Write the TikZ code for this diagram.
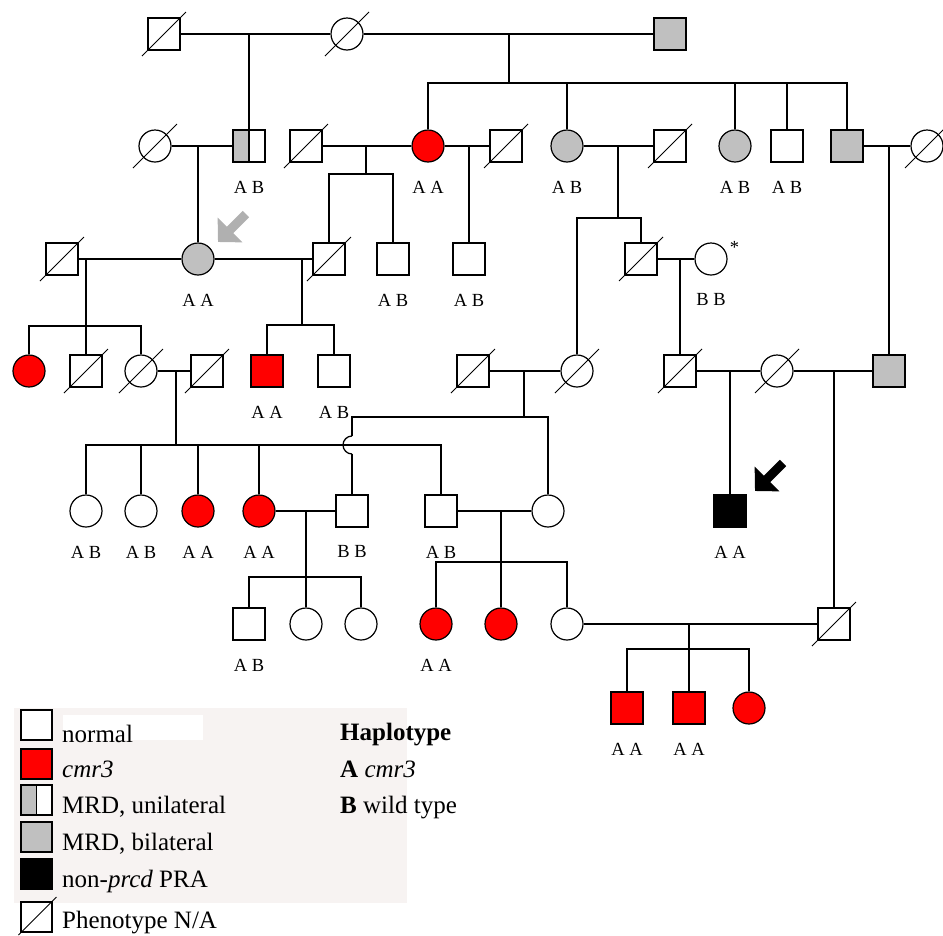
\documentclass[tikz,border=0pt]{standalone}
\usepackage{fontspec}
\setmainfont{Liberation Serif}
\usetikzlibrary{arrows.meta}
\definecolor{cmrRed}{HTML}{FF0000}
\definecolor{mrdGray}{HTML}{C0C0C0}
\definecolor{pointerGray}{HTML}{B0B0B0}
\definecolor{legendBg}{HTML}{F7F3F2}
\newcommand{\genofont}{\fontsize{18.5}{20}\selectfont}
\newcommand{\legfont}{\fontsize{25}{28}\selectfont}
\tikzset{
  indiv/.style={
    draw=black, fill=white, line width=1.2pt, minimum size=32pt, inner sep=0pt,
  },
  male/.style={indiv, rectangle},
  female/.style={indiv, circle},
  cmr/.style={fill=cmrRed},
  mrdbi/.style={fill=mrdGray},
  mrduni/.style={
    path picture={
      \fill[mrdGray] (path picture bounding box.south west) rectangle (path picture bounding box.north);
      \draw[line width=1.2pt] (path picture bounding box.north) -- (path picture bounding box.south);
    },
  },
  pra/.style={fill=black},
  geno/.style={label={[font=\genofont, inner sep=0pt, yshift=-18pt]below:#1}},
  starmark/.style={label={[font=\genofont, inner sep=0pt, xshift=3pt]20:*}},
  legbox/.style={
    draw=black, fill=white, line width=1.2pt, minimum width=31pt, minimum height=30pt, inner sep=0pt,
  },
  legtext/.style={font=\legfont, inner sep=0pt, anchor=base west},
  line/.style={line width=1.3pt},
  slash/.style={line width=1pt},
  pointer/.style={line width=9pt, -{Triangle[length=17pt, width=34pt]}},
}

\begin{document}
\begin{tikzpicture}[x=1pt, y=-1pt]
  \useasboundingbox (0,0) rectangle (943,935);

  % === Legend background ===
  \fill[legendBg] (14,708) rectangle (407,903);
  \fill[white] (63,715) rectangle (203,740);

  % === Generation I ===
  \node[male] (i1) at (164,34) {};
  \node[female] (i2) at (347,34) {};
  \node[male, mrdbi] (i3) at (670,34) {};

  % === Generation II ===
  \node[female] (ii1) at (155,146) {};
  \node[male, mrduni, geno=A B] (ii2) at (249,146) {};
  \node[male] (ii3) at (306,146) {};
  \node[female, cmr, geno=A A] (ii4) at (428,146) {};
  \node[male] (ii5) at (506,146) {};
  \node[female, mrdbi, geno=A B] (ii6) at (567,146) {};
  \node[male] (ii7) at (670,146) {};
  \node[female, mrdbi, geno=A B] (ii8) at (735,146) {};
  \node[male, geno=A B] (ii9) at (787,146) {};
  \node[male, mrdbi] (ii10) at (847,146) {};
  \node[female] (ii11) at (927,146) {};

  % === Generation III ===
  \node[male] (iii1) at (62,259) {};
  \node[female, mrdbi, geno=A A] (iii2) at (198,259) {};
  \node[male] (iii3) at (329,259) {};
  \node[male, geno=A B] (iii4) at (393,259) {};
  \node[male, geno=A B] (iii5) at (469,259) {};
  \node[male] (iii6) at (641,259) {};
  \node[female, geno=B B, starmark] (iii7) at (711,259) {};

  % === Generation IV ===
  \node[female, cmr] (iv1) at (29,371) {};
  \node[male] (iv2) at (86,371) {};
  \node[female] (iv3) at (141,371) {};
  \node[male] (iv4) at (207,371) {};
  \node[male, cmr, geno=A A] (iv5) at (267,371) {};
  \node[male, geno=A B] (iv6) at (334,371) {};
  \node[male] (iv7) at (473,371) {};
  \node[female] (iv8) at (577,371) {};
  \node[male] (iv9) at (680,371) {};
  \node[female] (iv10) at (777,371) {};
  \node[male, mrdbi] (iv11) at (889,371) {};

  % === Generation V ===
  \node[female, geno=A B] (v1) at (86,511) {};
  \node[female, geno=A B] (v2) at (141,511) {};
  \node[female, cmr, geno=A A] (v3) at (198,511) {};
  \node[female, cmr, geno=A A] (v4) at (259,511) {};
  \node[male, geno=B B] (v5) at (352,511) {};
  \node[male, geno=A B] (v6) at (441,511) {};
  \node[female] (v7) at (548,511) {};
  \node[male, pra, geno=A A] (v8) at (730,511) {};

  % === Generation VI ===
  \node[male, geno=A B] (vi1) at (249,624) {};
  \node[female] (vi2) at (306,624) {};
  \node[female] (vi3) at (361,624) {};
  \node[female, cmr, geno=A A] (vi4) at (436,624) {};
  \node[female, cmr] (vi5) at (501,624) {};
  \node[female] (vi6) at (567,624) {};
  \node[male] (vi7) at (834,624) {};

  % === Generation VII ===
  \node[male, cmr, geno=A A] (vii1) at (627,708) {};
  \node[male, cmr, geno=A A] (vii2) at (689,708) {};
  \node[female, cmr] (vii3) at (749,708) {};

  % === Phenotype N/A slashes ===
  \foreach \n in {i1,i2,ii1,ii3,ii5,ii7,ii11,iii1,iii3,iii6,iv2,iv3,iv4,iv7,iv8,iv9,iv10,vi7}
    \draw[slash] (\n.center) ++(-22,22) -- ++(44,-44);

  % === Mating lines ===
  \draw[line] (i1) -- (i2);
  \draw[line] (i2) -- (i3);
  \draw[line] (ii1) -- (ii2);
  \draw[line] (ii3) -- (ii4);
  \draw[line] (ii4) -- (ii5);
  \draw[line] (ii6) -- (ii7);
  \draw[line] (ii10) -- (ii11);
  \draw[line] (iii1) -- (iii2);
  \draw[line] (iii2) -- (iii3);
  \draw[line] (iii6) -- (iii7);
  \draw[line] (iv3) -- (iv4);
  \draw[line] (iv7) -- (iv8);
  \draw[line] (iv9) -- (iv10);
  \draw[line] (iv10) -- (iv11);
  \draw[line] (v4) -- (v5);
  \draw[line] (v6) -- (v7);
  \draw[line] (vi6) -- (vi7);

  % === Single offspring ===
  \draw[line] (ii2.north |- i1) -- (ii2.north);
  \draw[line] (iii2.north |- ii1) -- (iii2.north);
  \draw[line] (iii5.north |- ii4) -- (iii5.north);
  \draw[line] (iv11.north |- ii10) -- (iv11.north);
  \draw[line] (iv9.north |- iii6) -- (iv9.north);
  \draw[line] (v8.north |- iv9) -- (v8.north);
  \draw[line] (vi7.north |- iv10) -- (vi7.north);

  % === Sibships ===
  \coordinate (s1) at (509,83);
  \draw[line] (s1 |- i2) -- (s1);
  \draw[line] (ii4.north) |- (s1) -| (ii10.north);
  \foreach \c in {ii6,ii8,ii9} \draw[line] (\c.north) -- (\c.north |- s1);

  \coordinate (s2) at (366,174);
  \draw[line] (s2 |- ii3) -- (s2);
  \draw[line] (iii3.north) |- (s2) -| (iii4.north);

  \coordinate (s3) at (618,218);
  \draw[line] (s3 |- ii6) -- (s3);
  \draw[line] (iv8.north) |- (s3) -| (iii6.north);

  \coordinate (s4) at (86,326);
  \draw[line] (s4 |- iii1) -- (s4);
  \draw[line] (iv1.north) |- (s4) -| (iv3.north);
  \draw[line] (iv2.north) -- (iv2.north |- s4);

  \coordinate (s5) at (302,325);
  \draw[line] (s5 |- iii2) -- (s5);
  \draw[line] (iv5.north) |- (s5) -| (iv6.north);

  \coordinate (s6) at (176,445);
  \draw[line] (s6 |- iv3) -- (s6);
  \draw[line] (v1.north) |- (s6) -| (v6.north);
  \foreach \c in {v2,v3,v4} \draw[line] (\c.north) -- (\c.north |- s6);

  % line jump where the two sibships cross
  \coordinate (s7) at (524,417);
  \coordinate (hop) at (v5.north |- s6);
  \draw[line] (s7 |- iv7) -- (s7);
  \draw[line] (s7) -| (v7.north);
  \draw[line] (s7) -| ([yshift=9pt]hop);
  \draw[line] ([yshift=9pt]hop) arc[start angle=90, end angle=270, radius=9pt];
  \draw[line] ([yshift=-9pt]hop) -- (v5.north);

  \coordinate (s8) at (306,577);
  \draw[line] (s8 |- v4) -- (s8);
  \draw[line] (vi1.north) |- (s8) -| (vi3.north);
  \draw[line] (vi2.north) -- (vi2.north |- s8);

  \coordinate (s9) at (501,562);
  \draw[line] (s9 |- v6) -- (s9);
  \draw[line] (vi4.north) |- (s9) -| (vi6.north);
  \draw[line] (vi5.north) -- (vi5.north |- s9);

  \coordinate (s10) at (689,649);
  \draw[line] (s10 |- vi6) -- (s10);
  \draw[line] (vii1.north) |- (s10) -| (vii3.north);
  \draw[line] (vii2.north) -- (vii2.north |- s10);

  % === Pointers ===
  \draw[pointer, pointerGray] (iii2.center) ++(48,-45) -- ++(-28,28);
  \draw[pointer, black] (v8.center) ++(53,-48) -- ++(-28,28);

  % === Legend ===
  \node[legbox] (lg1) at (36.5,725) {};
  \node[legbox, cmr] (lg2) at (36.5,764) {};
  \node[legbox, mrduni] (lg3) at (36.5,800) {};
  \node[legbox, mrdbi] (lg4) at (36.5,837) {};
  \node[legbox, pra] (lg5) at (36.5,874) {};
  \node[legbox] (lg6) at (36.5,917) {};
  \draw[slash] (lg6.center) ++(-18,18) -- ++(38,-38);

  \node[legtext] (lt1) at (62,742) {normal};
  \node[legtext] (lt2) at (62,777) {\textit{cmr3}};
  \node[legtext] (lt3) at (62,813) {MRD, unilateral};
  \node[legtext] (lt4) at (62,850) {MRD, bilateral};
  \node[legtext] (lt5) at (62,887) {non-\textit{prcd} PRA};
  \node[legtext] (lt6) at (62,928) {Phenotype N/A};

  \node[legtext] (hap) at (340,740) {\textbf{Haplotype}};
  \node[legtext] (hapa) at (340,777) {\textbf{A} \textit{cmr3}};
  \node[legtext] (hapb) at (340,813) {\textbf{B} wild type};

\end{tikzpicture}
\end{document}
